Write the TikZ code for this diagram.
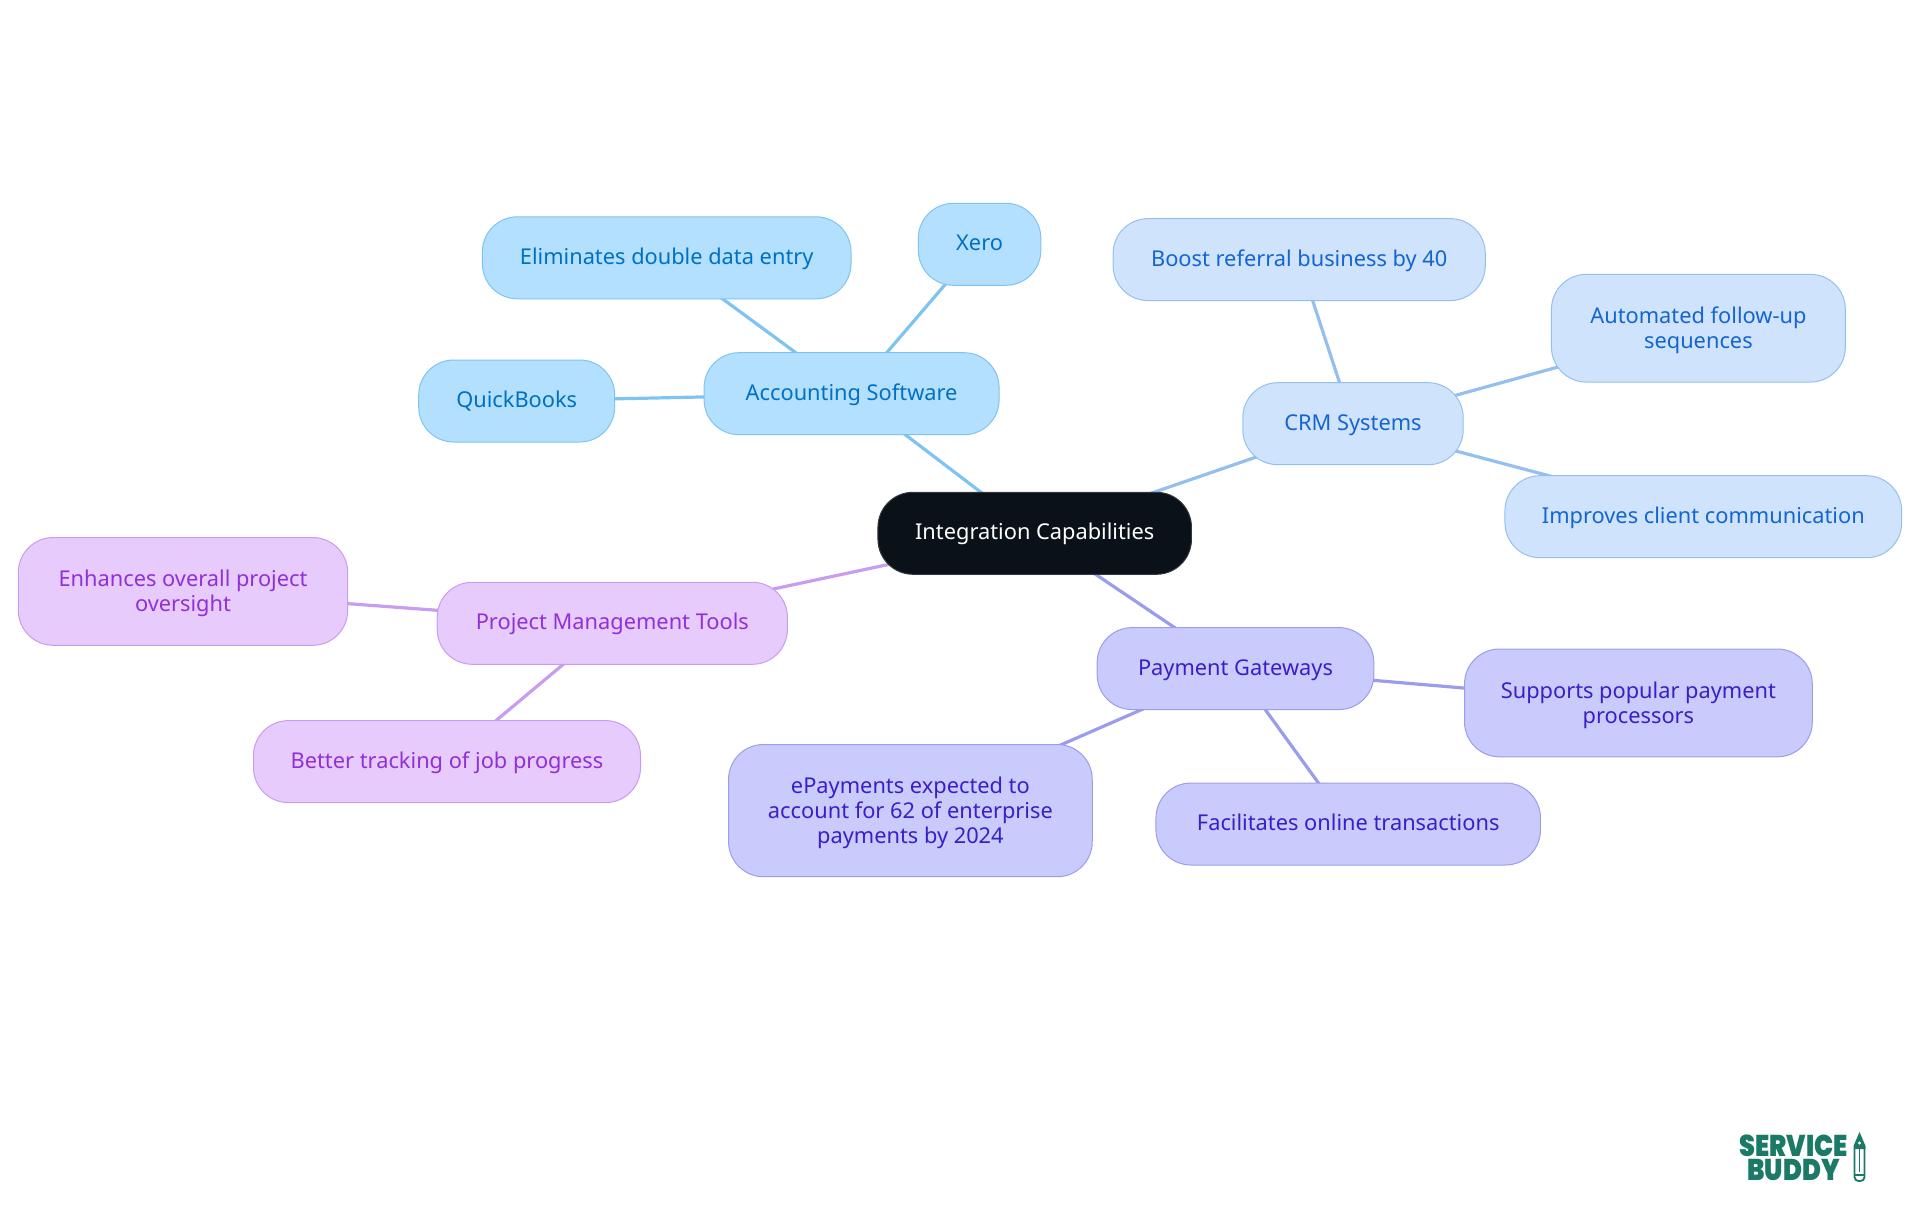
\documentclass[tikz,border=0pt]{standalone}
\usepackage{fontspec}
\setmainfont{Noto Sans}
\newfontfamily\logofont{Poppins}[BoldFont={Poppins Black}]
\usetikzlibrary{backgrounds}
\definecolor{rootfill}{HTML}{0B1119}
\definecolor{rootline}{HTML}{33383F}
\definecolor{acctfill}{HTML}{B3E0FF}
\definecolor{acctline}{HTML}{7FC4F0}
\definecolor{accttext}{HTML}{0070C4}
\definecolor{crmfill}{HTML}{CFE3FC}
\definecolor{crmline}{HTML}{94C0F0}
\definecolor{crmtext}{HTML}{1565D0}
\definecolor{payfill}{HTML}{CACBFD}
\definecolor{payline}{HTML}{9C9CEF}
\definecolor{paytext}{HTML}{3A1FC4}
\definecolor{pmfill}{HTML}{E7CBFD}
\definecolor{pmline}{HTML}{C89CF0}
\definecolor{pmtext}{HTML}{9030D8}
\definecolor{logogreen}{HTML}{1B7A66}
\newcommand{\mapstrut}{\rule[-5.4pt]{0pt}{24pt}}
\newcommand{\maptop}{\rule{0pt}{21pt}}
\tikzset{
	mapnode/.style={draw, line width=1pt, rounded corners=35, align=center, inner sep=0pt,
		font=\fontsize{21.8}{25}\selectfont,
		execute at begin node=\mapstrut, execute at end node=\mapstrut},
	rootnode/.style={mapnode, fill=rootfill, draw=rootline, text=white},
	acctnode/.style={mapnode, fill=acctfill, draw=acctline, text=accttext},
	crmnode/.style={mapnode, fill=crmfill, draw=crmline, text=crmtext},
	paynode/.style={mapnode, fill=payfill, draw=payline, text=paytext},
	pmnode/.style={mapnode, fill=pmfill, draw=pmline, text=pmtext},
	logotext/.style={text=logogreen, inner sep=0pt, align=center, font=\logofont\bfseries\fontsize{30}{24}\selectfont},
	size/.style n args={2}{minimum width=#1, minimum height=#2}
}
\begin{document}
\begin{tikzpicture}[x=1pt, y=-1pt]
	\useasboundingbox (0,0) rectangle (1920,1215);
	
	\node[rootnode, size={313.5}{82}] (root) at (1034.7,533.3) {Integration Capabilities};
	
	\node[acctnode, size={295}{82}] (acct) at (851.6,393.7) {Accounting Software};
	\node[acctnode, size={122.5}{82}] (xero) at (979.6,244.3) {Xero};
	\node[acctnode, size={368.6}{82}] (elim) at (666.7,257.8) {Eliminates double data entry};
	\node[acctnode, size={196}{82}] (qb) at (516.7,401) {QuickBooks};
	
	\node[crmnode, size={220.4}{82}] (crm) at (1353,423.7) {CRM Systems};
	\node[crmnode, size={372.2}{82}] (boost) at (1299.2,259.6) {Boost referral business by 40};
	\node[crmnode, size={293.9}{107.8}] (auto) at (1698.4,328.2) {\maptop Automated follow-up\\sequences};
	\node[crmnode, size={396.7}{82}] (impr) at (1703.3,516.7) {Improves client communication};
	
	\node[pmnode, size={350.2}{82}] (pm) at (612.3,623.3) {Project Management Tools};
	\node[pmnode, size={329.4}{107.8}] (enh) at (183,591.4) {\maptop Enhances overall project\\oversight};
	\node[pmnode, size={387}{82}] (better) at (447,761.6) {Better tracking of job progress};
	
	\node[paynode, size={276.7}{82}] (pay) at (1235.5,668.6) {Payment Gateways};
	\node[paynode, size={347.8}{107.8}] (supp) at (1638.4,702.9) {\maptop Supports popular payment\\processors};
	\node[paynode, size={363.7}{132.2}] (epay) at (910.4,810.6) {\maptop ePayments expected to\\account for 62 of enterprise\\payments by 2024};
	\node[paynode, size={384.5}{82}] (fac) at (1348.2,824) {Facilitates online transactions};
	
	% links run centre to centre, behind the boxes
	\begin{pgfonlayer}{background}
		\foreach \a/\b in {root/acct, acct/xero, acct/elim, acct/qb}
			\draw[acctline, line width=3.2pt] (\a.center) -- (\b.center);
		\foreach \a/\b in {root/crm, crm/boost, crm/auto, crm/impr}
			\draw[crmline, line width=3.2pt] (\a.center) -- (\b.center);
		\foreach \a/\b in {root/pm, pm/enh, pm/better}
			\draw[pmline, line width=3.2pt] (\a.center) -- (\b.center);
		\foreach \a/\b in {root/pay, pay/supp, pay/epay, pay/fac}
			\draw[payline, line width=3.2pt] (\a.center) -- (\b.center);
	\end{pgfonlayer}
	
	% logo
	\node[logotext, xscale=.85] (logo) at (1793.5,1157.5) {SERVICE\\BUDDY};
	\fill[logogreen] (1859.5,1132) -- (1853.5,1146) -- (1853.5,1149) -- (1865.5,1149) -- (1865.5,1146) -- cycle;
	\fill[white] (1859.5,1143) circle (1.6);
	\draw[logogreen, line width=1.8pt, rounded corners=4] (1854.5,1149) -- (1854.5,1181) -- (1864.5,1181) -- (1864.5,1149);
	\draw[logogreen, line width=1.5pt] (1859.5,1149) -- (1859.5,1172) (1854,1175) -- (1865,1175);
\end{tikzpicture}
\end{document}
